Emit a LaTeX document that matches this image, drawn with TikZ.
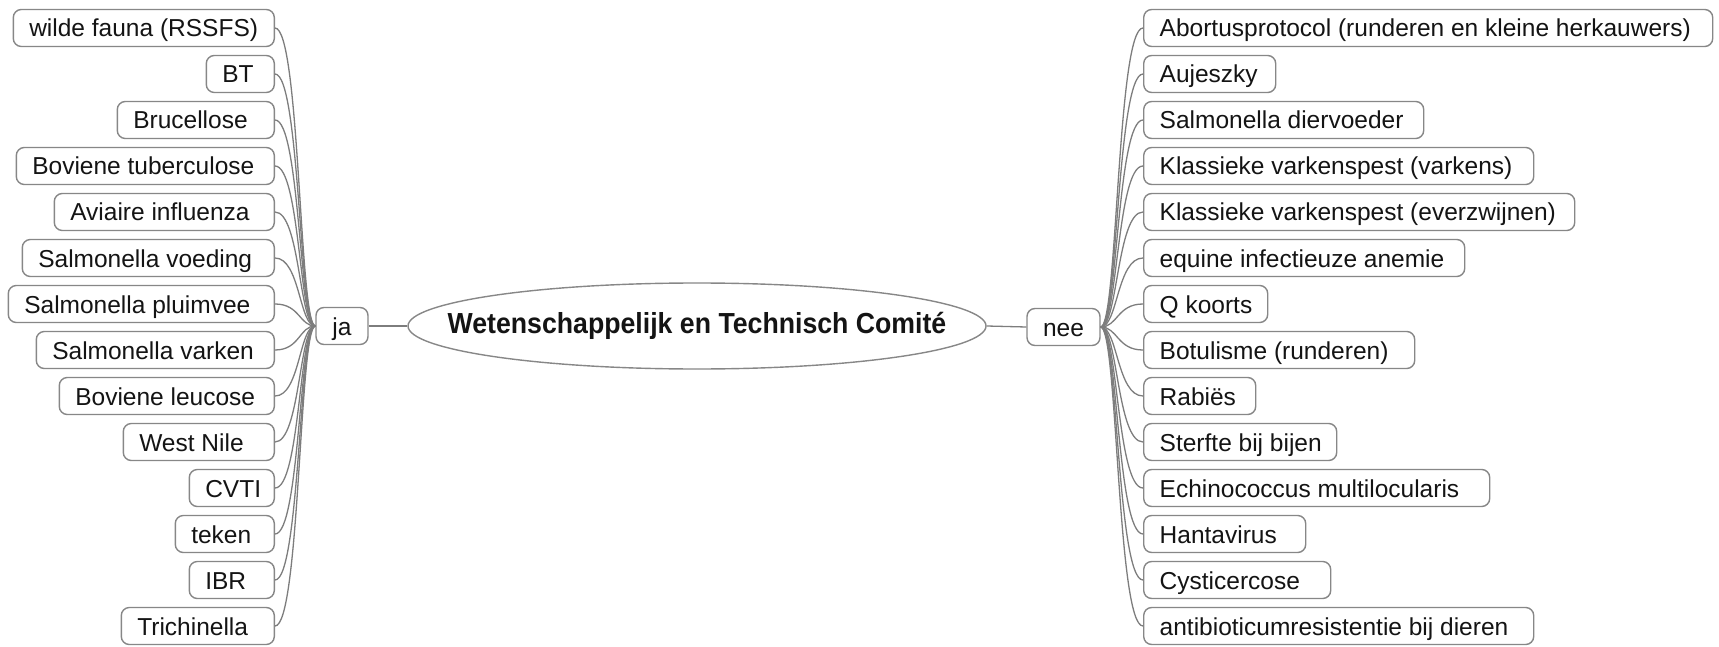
\documentclass[tikz,border=0pt]{standalone}
\usepackage{fontspec}
\setmainfont{Liberation Sans}
\usetikzlibrary{shapes.geometric}
\definecolor{bord}{RGB}{135,135,135}
\definecolor{conn}{RGB}{125,125,125}
\definecolor{ink}{RGB}{20,20,20}
\begin{document}
\begin{tikzpicture}[x=1pt,y=-1pt,
  box/.style={draw=bord, line width=1.4pt, rounded corners=8pt, fill=white,
    minimum height=37pt, inner xsep=16pt, inner ysep=0pt,
    text height=18pt, text depth=0pt,
    font=\fontsize{24.5pt}{28pt}\selectfont, text=ink},
  lbox/.style={box, anchor=east},
  rbox/.style={box, anchor=west},
  link/.style={draw=conn, line width=1.3pt}]
\useasboundingbox (0,0) rectangle (1719,647);

% centre
\node[ellipse, draw=bord, line width=1.4pt, fill=white, minimum width=578pt,
  minimum height=86pt, inner sep=0pt,
  label={[text=ink, inner sep=0pt, font=\fontsize{29pt}{32pt}\selectfont\bfseries]center:{\scalebox{0.92}[1]{Wetenschappelijk en Technisch Comité}}}]
  (wtc) at (697,326) {};
\node[box, minimum width=52pt, inner xsep=0pt] (ja) at (342,326) {ja};
\node[box, minimum width=73pt, inner xsep=0pt] (nee) at (1063.5,327) {nee};
\draw[link] (ja.east) -- (wtc.west);
\draw[link] (wtc.east) -- (nee.west);

% left boxes
\node[lbox] (l0)  at (275,28)  {\makebox[229pt][l]{wilde fauna (RSSFS)}};
\node[lbox] (l1)  at (275,74)  {\makebox[36pt][l]{BT}};
\node[lbox] (l2)  at (275,120) {\makebox[125pt][l]{Brucellose}};
\node[lbox] (l3)  at (275,166) {\makebox[226pt][l]{Boviene tuberculose}};
\node[lbox] (l4)  at (275,212) {\makebox[188pt][l]{Aviaire influenza}};
\node[lbox] (l5)  at (275,258) {\makebox[220pt][l]{Salmonella voeding}};
\node[lbox] (l6)  at (275,304) {\makebox[234pt][l]{Salmonella pluimvee}};
\node[lbox] (l7)  at (275,350) {\makebox[206pt][l]{Salmonella varken}};
\node[lbox] (l8)  at (275,396) {\makebox[183pt][l]{Boviene leucose}};
\node[lbox] (l9)  at (275,442) {\makebox[119pt][l]{West Nile}};
\node[lbox] (l10) at (275,488) {\makebox[53pt][l]{CVTI}};
\node[lbox] (l11) at (275,534) {\makebox[67pt][l]{teken}};
\node[lbox] (l12) at (275,580) {\makebox[53pt][l]{IBR}};
\node[lbox] (l13) at (275,626) {\makebox[121pt][l]{Trichinella}};

% right boxes
\node[rbox] (r0)  at (1143,28)  {\makebox[537pt][l]{Abortusprotocol (runderen en kleine herkauwers)}};
\node[rbox] (r1)  at (1143,74)  {\makebox[100pt][l]{Aujeszky}};
\node[rbox] (r2)  at (1143,120) {\makebox[248pt][l]{Salmonella diervoeder}};
\node[rbox] (r3)  at (1143,166) {\makebox[358pt][l]{Klassieke varkenspest (varkens)}};
\node[rbox] (r4)  at (1143,212) {\makebox[399pt][l]{Klassieke varkenspest (everzwijnen)}};
\node[rbox] (r5)  at (1143,258) {\makebox[289pt][l]{equine infectieuze anemie}};
\node[rbox] (r6)  at (1143,304) {\makebox[92pt][l]{Q koorts}};
\node[rbox] (r7)  at (1143,350) {\makebox[239pt][l]{Botulisme (runderen)}};
\node[rbox] (r8)  at (1143,396) {\makebox[80pt][l]{Rabiës}};
\node[rbox] (r9)  at (1143,442) {\makebox[161pt][l]{Sterfte bij bijen}};
\node[rbox] (r10) at (1143,488) {\makebox[314pt][l]{Echinococcus multilocularis}};
\node[rbox] (r11) at (1143,534) {\makebox[130pt][l]{Hantavirus}};
\node[rbox] (r12) at (1143,580) {\makebox[155pt][l]{Cysticercose}};
\node[rbox] (r13) at (1143,626) {\makebox[358pt][l]{antibioticumresistentie bij dieren}};

% connectors
\foreach \i in {0,...,13}{
  \draw[link] (ja.west) .. controls +(-16,0) and +(25,0) .. (l\i.east);
  \draw[link] (nee.east) .. controls +(17,0) and +(-26,0) .. (r\i.west);
}
\end{tikzpicture}
\end{document}
